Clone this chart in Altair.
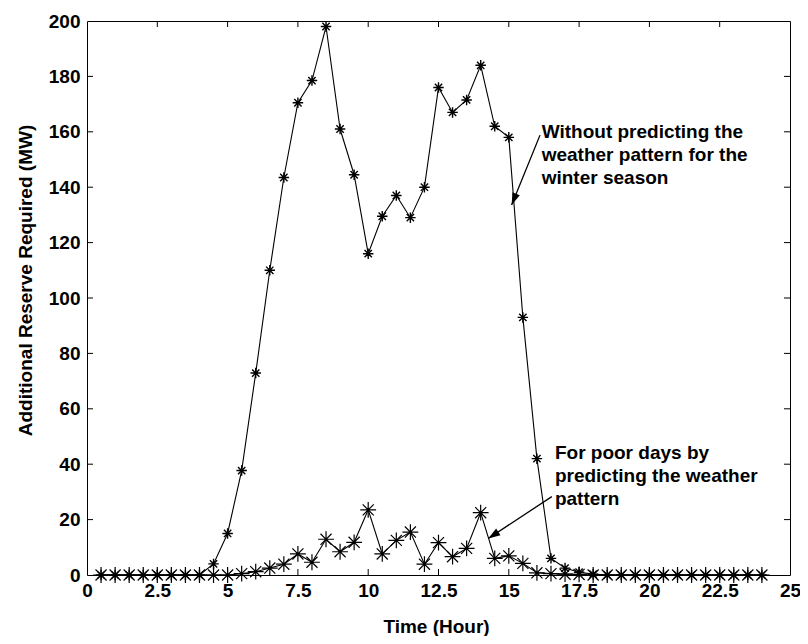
import altair as alt
import pandas as pd

# ---- data ----
hours = [0.5 * i for i in range(1, 49)]  # 0.5 .. 24

without_pred = [0, 0, 0, 0, 0, 0, 0, 0,
                4, 15, 37.7, 72.9, 110, 143.5, 170.5, 178.5, 198, 161,
                144.5, 116, 129.5, 137, 129, 140, 176, 167, 171.5, 184,
                162, 158, 93, 42, 6, 2.5, 1, 0.3,
                0, 0, 0, 0, 0, 0, 0, 0, 0, 0, 0, 0]

poor_days = [0, 0, 0, 0, 0, 0, 0, 0, 0,
             0, 0.5, 1.2, 2.5, 3.9, 7.6, 4.6, 12.9, 8.4, 11.8, 23.5,
             7.6, 12.5, 15.5, 3.9, 11.7, 6.6, 9.6, 22.5, 6.0, 6.9, 4.2,
             0.8, 0.5, 0.3, 0.2,
             0, 0, 0, 0, 0, 0, 0, 0, 0, 0, 0, 0, 0]

x_ticks = [0, 2.5, 5, 7.5, 10, 12.5, 15, 17.5, 20, 22.5, 25]
y_ticks = [0, 20, 40, 60, 80, 100, 120, 140, 160, 180, 200]

label1_lines = ["Without predicting the", "weather pattern for the", "winter season"]
label1_x = [16.17, 16.17, 16.17]
label1_y = [160.0, 151.6, 143.3]

label2_lines = ["For poor days by", "predicting the weather", "pattern"]
label2_x = [16.64, 16.64, 16.64]
label2_y = [43.9, 35.7, 27.3]

arrow_tail_x = [16.11, 16.53]
arrow_tail_y = [158.8, 28.3]
arrow_tip_x = [15.10, 14.27]
arrow_tip_y = [133.6, 13.2]
arrow_angle = [202, 236.7]

W, H = 703, 554
FONT = "Liberation Sans"
STAR = "M-1,0L1,0M0,-1L0,1M-0.7,-0.7L0.7,0.7M-0.7,0.7L0.7,-0.7"
HEAD = "M0,0L-0.33,1L0.33,1Z"

df1 = pd.DataFrame({"t": hours, "v": without_pred})
df2 = pd.DataFrame({"t": hours, "v": poor_days})

xs = alt.Scale(domain=[0, 25], nice=False, zero=False)
ys = alt.Scale(domain=[0, 200], nice=False)

x_axis = alt.Axis(values=x_ticks, format=".3~g", title="Time (Hour)", grid=False,
                  ticks=False, domain=False, labelFont=FONT, labelFontSize=19,
                  labelFontWeight="bold", labelColor="black", labelPadding=6,
                  titleFont=FONT, titleFontSize=19, titleFontWeight="bold",
                  titleColor="black", titleX=349, titleY=57, titleAlign="center",
                  titleBaseline="alphabetic", labelFlush=False, labelOverlap=False)
y_axis = alt.Axis(values=y_ticks, format=".3~g", title="Additional Reserve Required (MW)",
                  grid=False, ticks=False, domain=False, labelFont=FONT, labelFontSize=19,
                  labelFontWeight="bold", labelColor="black", labelPadding=7,
                  titleFont=FONT, titleFontSize=19, titleFontWeight="bold",
                  titleColor="black", titleX=-62, titleY=259, titleAlign="center",
                  titleBaseline="middle", titleAngle=-90, labelFlush=False,
                  labelOverlap=False)

base1 = alt.Chart(df1).encode(
    x=alt.X("t:Q", scale=xs, axis=x_axis),
    y=alt.Y("v:Q", scale=ys, axis=y_axis),
)
line1 = base1.mark_line(color="black", strokeWidth=1.1)
pts1 = base1.mark_point(shape=STAR, size=110, filled=False, color="black",
                        strokeWidth=1.4, opacity=1)

base2 = alt.Chart(df2).encode(x=alt.X("t:Q", scale=xs), y=alt.Y("v:Q", scale=ys))
line2 = base2.mark_line(color="black", strokeWidth=1.1)
pts2 = base2.mark_point(shape=STAR, size=250, filled=False, color="black",
                        strokeWidth=1.2, opacity=1)

# inward tick marks on all four sides
xt = pd.DataFrame({"t": x_ticks[1:-1]})
yt = pd.DataFrame({"v": y_ticks[1:-1]})
tick_b = alt.Chart(xt).mark_rule(color="black", strokeWidth=1).encode(
    x=alt.X("t:Q", scale=xs), y=alt.value(H), y2=alt.value(H - 6))
tick_t = alt.Chart(xt).mark_rule(color="black", strokeWidth=1).encode(
    x=alt.X("t:Q", scale=xs), y=alt.value(0), y2=alt.value(6))
tick_l = alt.Chart(yt).mark_rule(color="black", strokeWidth=1).encode(
    y=alt.Y("v:Q", scale=ys), x=alt.value(0), x2=alt.value(6))
tick_r = alt.Chart(yt).mark_rule(color="black", strokeWidth=1).encode(
    y=alt.Y("v:Q", scale=ys), x=alt.value(W), x2=alt.value(W - 6))

# annotations
lab = pd.DataFrame({"x": label1_x + label2_x, "y": label1_y + label2_y,
                    "txt": label1_lines + label2_lines})
labels = alt.Chart(lab).mark_text(align="left", baseline="middle", font=FONT,
                                  fontSize=19, fontWeight="bold", color="black").encode(
    x=alt.X("x:Q", scale=xs), y=alt.Y("y:Q", scale=ys), text="txt:N")

arr = pd.DataFrame({"x": arrow_tail_x, "y": arrow_tail_y, "x2": arrow_tip_x,
                    "y2": arrow_tip_y, "ang": arrow_angle})
shafts = alt.Chart(arr).mark_rule(color="black", strokeWidth=1.3).encode(
    x=alt.X("x:Q", scale=xs), y=alt.Y("y:Q", scale=ys), x2="x2:Q", y2="y2:Q")
heads = alt.Chart(arr).mark_point(shape=HEAD, size=576, filled=True, color="black",
                                  opacity=1, strokeWidth=0).encode(
    x=alt.X("x2:Q", scale=xs), y=alt.Y("y2:Q", scale=ys),
    angle=alt.Angle("ang:Q", scale=None))

chart = alt.layer(line1, line2, pts1, pts2, tick_b, tick_t, tick_l, tick_r,
                  shafts, heads, labels).properties(
    width=W, height=H,
    autosize=alt.AutoSizeParams(type="none"),
    padding={"left": 79, "top": 13, "right": 10, "bottom": 61},
    background="white",
).configure_view(stroke="black", strokeWidth=1)

chart.save("out.html", embed_options={"renderer": "svg", "actions": False})
